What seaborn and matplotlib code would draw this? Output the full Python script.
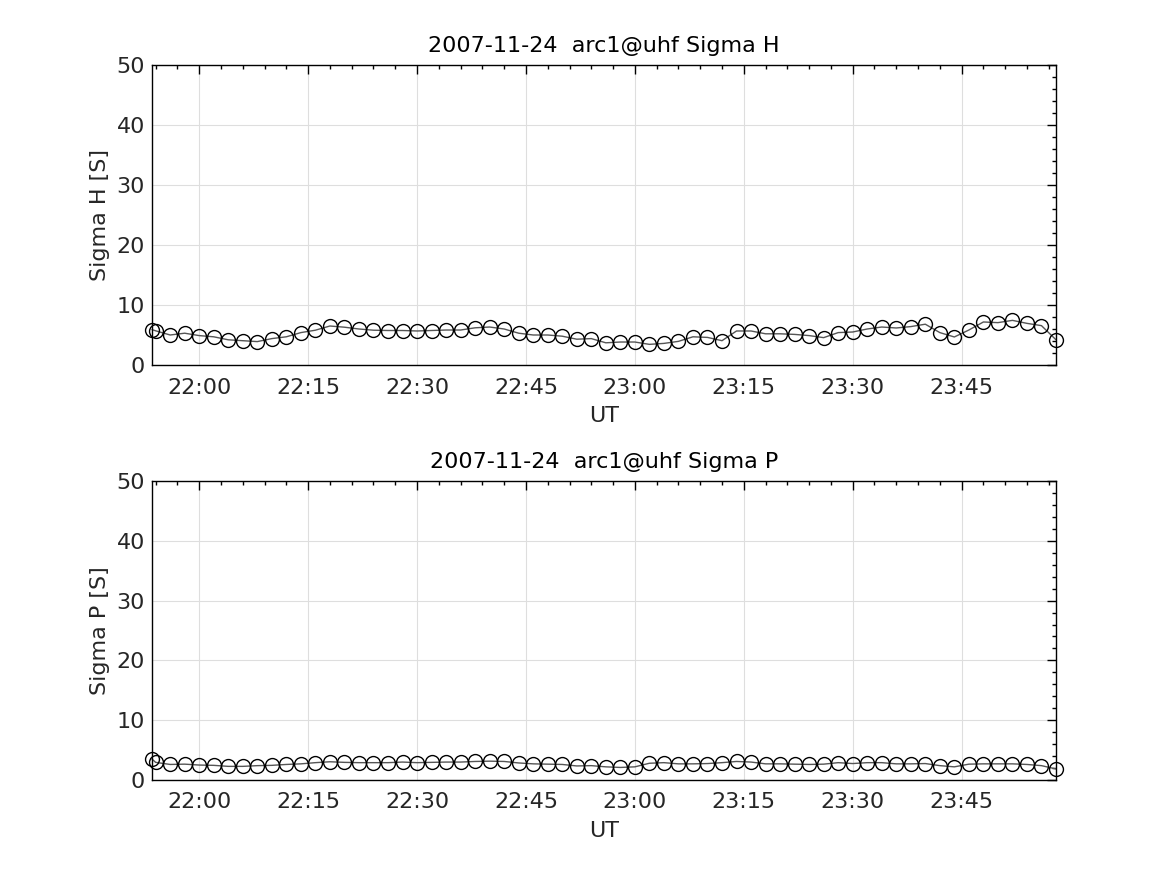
import pandas as pd
import numpy as np
import seaborn as sns
import matplotlib.pyplot as plt
import matplotlib.dates as mdates

# sample times: two early dumps then the regular 2-minute cadence
first_times = ["2007-11-24 21:53:30", "2007-11-24 21:54:00"]
regular_start = "2007-11-24 21:56:00"
regular_end = "2007-11-24 23:58:00"

sigma_h = [5.9, 5.7,
           5.0, 5.3, 4.9, 4.7, 4.2, 4.05, 3.9, 4.4, 4.7, 5.4,
           5.8, 6.5, 6.3, 6.0, 5.8, 5.75, 5.75, 5.67, 5.75, 5.83,
           5.83, 6.2, 6.33, 6.0, 5.3, 5.0, 5.0, 4.8, 4.3, 4.4,
           3.7, 3.83, 3.83, 3.44, 3.6, 3.94, 4.7, 4.6, 4.05, 5.67,
           5.67, 5.2, 5.2, 5.1, 4.9, 4.56, 5.4, 5.5, 6.0, 6.33,
           6.17, 6.4, 6.8, 5.4, 4.67, 5.83, 7.17, 7.06, 7.44, 6.94,
           6.56, 4.2]

sigma_p = [3.5, 2.95,
           2.6, 2.65, 2.5, 2.45, 2.28, 2.28, 2.4, 2.45, 2.6, 2.7,
           2.9, 3.05, 2.95, 2.9, 2.9, 2.9, 3.0, 2.9, 2.95, 3.0,
           3.0, 3.1, 3.15, 3.1, 2.85, 2.7, 2.65, 2.6, 2.35, 2.4,
           2.2, 2.1, 2.2, 2.8, 2.9, 2.7, 2.7, 2.75, 2.9, 3.1,
           3.0, 2.7, 2.7, 2.65, 2.6, 2.65, 2.9, 2.75, 2.9, 2.9,
           2.7, 2.7, 2.75, 2.4, 2.2, 2.65, 2.7, 2.7, 2.7, 2.6,
           2.4, 1.85]

times = pd.to_datetime(first_times).append(pd.date_range(regular_start, regular_end, freq="2min"))
df = pd.DataFrame({"UT": times, "Sigma H": sigma_h, "Sigma P": sigma_p})

sns.set_style("white")
plt.rcParams["font.family"] = ["DejaVu Sans"]
txt = "#262626"

fig = plt.figure(figsize=(11.67, 8.75), dpi=100)
ax_top = fig.add_axes([152 / 1167, (875 - 365) / 875, 904 / 1167, 300 / 875])
ax_bot = fig.add_axes([152 / 1167, (875 - 780) / 875, 904 / 1167, 299 / 875])

for ax, col in [(ax_top, "Sigma H"), (ax_bot, "Sigma P")]:
    sns.lineplot(data=df, x="UT", y=col, ax=ax, color="#555555", linewidth=1.0,
                 marker="o", markersize=10, markerfacecolor="none",
                 markeredgecolor="black", markeredgewidth=1.0, clip_on=False)
    ax.set_xlim(df["UT"].iloc[0], df["UT"].iloc[-1])
    ax.set_ylim(0, 50)
    ax.set_yticks([0, 10, 20, 30, 40, 50])
    ax.yaxis.set_minor_locator(plt.MultipleLocator(2))
    ax.xaxis.set_major_locator(mdates.MinuteLocator(byminute=[0, 15, 30, 45]))
    ax.xaxis.set_minor_locator(mdates.MinuteLocator(byminute=range(0, 60, 3)))
    ax.xaxis.set_major_formatter(mdates.DateFormatter("%H:%M"))
    ax.grid(True, which="major", color="#dedede", linewidth=0.8)
    ax.tick_params(which="both", direction="in", top=True, right=True,
                   colors="black", labelcolor=txt, labelsize=16)
    ax.tick_params(which="major", length=6.5, width=1)
    ax.tick_params(which="minor", length=3, width=1)
    ax.tick_params(axis="x", which="major", pad=9)
    ax.tick_params(axis="y", which="major", pad=5)
    for s in ax.spines.values():
        s.set_color("black")
        s.set_linewidth(1.0)
    ax.set_xlabel("UT", fontsize=16, color=txt, labelpad=6)
    ax.set_ylabel(f"{col} [S]", fontsize=16, color=txt, labelpad=5)
    ax.set_title(f"2007-11-24  arc1@uhf {col}", fontsize=16, color="black", pad=9)

plt.savefig("out.png", dpi=100)
